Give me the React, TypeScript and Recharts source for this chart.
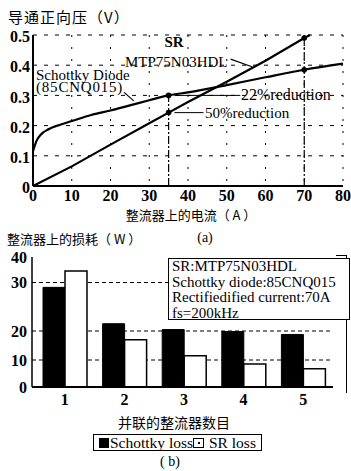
import React from 'react';
import {
  LineChart, Line, XAxis, YAxis, CartesianGrid, ReferenceLine, ReferenceDot,
  BarChart, Bar, Legend,
} from 'recharts';

// ---- (a) forward voltage vs. rectifier current ----
const currentTicks = [0, 10, 20, 30, 40, 50, 60, 70, 80];
const voltageTicks = [0, 0.1, 0.2, 0.3, 0.4, 0.5];
const schottkyCurrent = [0, 1, 2, 4, 7, 10, 15, 20, 25, 30, 35, 40, 50, 60, 70, 80];
const schottkyVoltage = [0.115, 0.152, 0.17, 0.188, 0.203, 0.215, 0.235, 0.25, 0.267, 0.284, 0.3, 0.31, 0.334, 0.36, 0.385, 0.405];
const srCurrent = [0, 10, 20, 30, 35, 40, 50, 60, 70, 71.5];
const srVoltage = [0, 0.065, 0.137, 0.208, 0.243, 0.278, 0.345, 0.415, 0.49, 0.5];
const markCurrents = [35, 70];

// ---- (b) rectifier loss vs. number of parallel rectifiers ----
const rectifierCounts = ['1', '2', '3', '4', '5'];
const schottkyLoss = [29, 21.5, 20.3, 19.8, 18.8];
const srLoss = [34.5, 17, 11.5, 8.5, 6.8];
const lossTicks = [0, 10, 20, 30, 40];
// the printed loss axis is unevenly spaced; this is where each labelled tick sits on it
const lossAxisStops = [0, 27, 56, 104.5, 130];
const legendOrder = ['schottky', 'sr'];

const warpLoss = (v: number) => {
  for (let i = 0; i < lossTicks.length - 1; i++) {
    if (v <= lossTicks[i + 1]) {
      const t = (v - lossTicks[i]) / (lossTicks[i + 1] - lossTicks[i]);
      return lossAxisStops[i] + t * (lossAxisStops[i + 1] - lossAxisStops[i]);
    }
  }
  return lossAxisStops[lossAxisStops.length - 1];
};

const schottkySeries = schottkyCurrent.map((x, i) => ({ x, y: schottkyVoltage[i] }));
const srSeries = srCurrent.map((x, i) => ({ x, y: srVoltage[i] }));
const vAt = (xs: number[], ys: number[], x: number) => ys[xs.indexOf(x)];

const lossData = rectifierCounts.map((n, i) => ({
  n,
  schottky: warpLoss(schottkyLoss[i]),
  sr: warpLoss(srLoss[i]),
}));

const SERIF = '"Liberation Serif", "Times New Roman", serif';
const CJK = '"Noto Sans CJK SC", sans-serif';

const T = (props: { x: number; y: number; children: React.ReactNode; size?: number; font?: string; weight?: any; ls?: number; anchor?: 'left' | 'center' }) => {
  const { x, y, children, size = 15, font = SERIF, weight = 'normal', ls = 0, anchor = 'left' } = props;
  return (
    <div
      style={{
        position: 'absolute', left: x, top: y, fontSize: size, fontFamily: font, fontWeight: weight,
        letterSpacing: ls, lineHeight: 1, whiteSpace: 'nowrap', color: '#000',
        transform: anchor === 'center' ? 'translate(-50%, -50%)' : 'translate(0, -50%)',
      }}
    >
      {children}
    </div>
  );
};

const LegendBox = (props: any) => {
  const payload = [...(props.payload || [])].sort(
    (a: any, b: any) => legendOrder.indexOf(a.dataKey) - legendOrder.indexOf(b.dataKey),
  );
  return (
    <div
      style={{
        border: '1.5px solid #000', padding: '0 5px', height: 15, display: 'flex', alignItems: 'center',
        fontFamily: SERIF, fontSize: 15.5, color: '#000', whiteSpace: 'nowrap', lineHeight: 1,
      }}
    >
      {payload.map((e: any, i: number) => {
        const dark = e.dataKey === 'schottky';
        return (
          <span key={i} style={{ display: 'inline-flex', alignItems: 'center', whiteSpace: 'pre' }}>
            <span
              style={{
                display: 'inline-flex', alignItems: 'center', justifyContent: 'center',
                width: dark ? 10 : 9, height: dark ? 10 : 8,
                background: dark ? '#000' : '#fff', border: dark ? 'none' : '1.5px solid #000',
                marginRight: 1,
              }}
            >
              {dark ? null : <span style={{ width: 2, height: 2, background: '#000' }} />}
            </span>
            {e.value}
          </span>
        );
      })}
    </div>
  );
};

export default function App() {
  const tickStyle = { fill: '#000', fontSize: 16, fontFamily: SERIF, fontWeight: 'bold' as const };
  return (
    <div style={{ position: 'absolute', left: 0, top: 0, width: 351, height: 471, background: '#fff', overflow: 'hidden' }}>
      {/* (a) */}
      <div style={{ position: 'absolute', left: 0, top: 0 }}>
        <LineChart width={351} height={215} margin={{ top: 35, right: 8, bottom: 15, left: 8 }}>
          <CartesianGrid horizontal={false} stroke="#000" strokeWidth={1} strokeDasharray="2 10" />
          <CartesianGrid vertical={false} stroke="#000" strokeWidth={1} strokeDasharray="4 7" />
          <XAxis
            type="number" dataKey="x" domain={[0, 80]} ticks={currentTicks} interval={0}
            tickLine={false} tickSize={4} tickMargin={0} height={14}
            axisLine={{ stroke: '#000', strokeWidth: 2 }} tick={tickStyle}
          />
          <XAxis xAxisId="top" orientation="top" type="number" domain={[0, 80]} height={0} tick={false} tickLine={false} axisLine={{ stroke: '#000', strokeWidth: 2 }} />
          <YAxis
            type="number" domain={[0, 0.5]} ticks={voltageTicks} interval={0} width={25}
            tickLine={false} tickSize={1} tickMargin={2}
            tickFormatter={(v: number) => (v === 0 ? '0' : v.toFixed(1))}
            axisLine={{ stroke: '#000', strokeWidth: 2 }} tick={{ ...tickStyle, dy: 1.5 }}
          />
          <YAxis yAxisId="right" orientation="right" type="number" domain={[0, 0.5]} width={0} tick={false} tickLine={false} axisLine={{ stroke: '#000', strokeWidth: 1.5 }} />
          <ReferenceLine segment={[{ x: 35, y: 0 }, { x: 35, y: vAt(schottkyCurrent, schottkyVoltage, 35) }]} stroke="#000" strokeWidth={1.2} strokeDasharray="8 2 2 2" ifOverflow="visible" />
          <ReferenceLine segment={[{ x: 70, y: 0 }, { x: 70, y: 0.5 }]} stroke="#000" strokeWidth={1.2} strokeDasharray="8 2 2 2" ifOverflow="visible" />
          <ReferenceLine segment={[{ x: 36.5, y: 0.3 }, { x: 53.5, y: 0.3 }]} stroke="#000" strokeWidth={1} ifOverflow="visible" />
          <ReferenceLine segment={[{ x: 36.5, y: 0.243 }, { x: 44, y: 0.243 }]} stroke="#000" strokeWidth={1} ifOverflow="visible" />
          <ReferenceLine segment={[{ x: 51, y: 0.42 }, { x: 56.5, y: 0.395 }]} stroke="#000" strokeWidth={1.2} ifOverflow="visible" />
          <ReferenceLine segment={[{ x: 23.5, y: 0.31 }, { x: 26, y: 0.282 }]} stroke="#000" strokeWidth={1.2} ifOverflow="visible" />
          <Line data={schottkySeries} dataKey="y" type="monotone" stroke="#000" strokeWidth={2.2} dot={false} isAnimationActive={false} />
          <Line data={srSeries} dataKey="y" type="linear" stroke="#000" strokeWidth={2.2} dot={false} isAnimationActive={false} />
          {markCurrents.map((c) => (
            <ReferenceDot key={'s' + c} x={c} y={vAt(schottkyCurrent, schottkyVoltage, c)} r={2.8} fill="#000" stroke="none" />
          ))}
          {markCurrents.map((c) => (
            <ReferenceDot key={'r' + c} x={c} y={vAt(srCurrent, srVoltage, c)} r={2.8} fill="#000" stroke="none" />
          ))}
        </LineChart>
      </div>

      <T x={8} y={16} size={15} font={CJK} ls={1}>导通正向压（V）</T>
      <T x={174} y={42} size={15} weight="bold" anchor="center">SR</T>
      <T x={125} y={62} size={15}>MTP75N03HDL</T>
      <T x={36} y={75} size={15}>Schottky Diode</T>
      <T x={36} y={87} size={15} ls={0.8}>(85CNQ015)</T>
      <T x={241} y={95} size={16}>22%reduction</T>
      <T x={205} y={113} size={15}>50%reduction</T>
      <T x={191} y={214} size={13} font={CJK} anchor="center">整流器上的电流（ A ）</T>

      <T x={7} y={238} size={13} font={CJK}>整流器上的损耗（ W ）</T>
      <T x={205} y={238} size={14} anchor="center">(a)</T>

      {/* (b) */}
      <div style={{ position: 'absolute', left: 0, top: 245 }}>
        <BarChart width={351} height={226} data={lossData} margin={{ top: 12, right: 18, bottom: 66, left: 0 }} barGap={0} barSize={22}>
          <CartesianGrid vertical={false} horizontalValues={[warpLoss(10), warpLoss(20), warpLoss(30)]} stroke="#000" strokeWidth={1} strokeDasharray="4 3" />
          <XAxis
            dataKey="n" height={18} tickLine={false} tickSize={2} tickMargin={5} padding={{ left: 3, right: 0 }}
            axisLine={{ stroke: '#000', strokeWidth: 2 }} tick={tickStyle} interval={0}
          />
          <YAxis
            type="number" domain={[0, lossAxisStops[lossAxisStops.length - 1]]} ticks={lossAxisStops} interval={0} width={32}
            tickLine={false} tickSize={2} tickMargin={3}
            tickFormatter={(v: number) => String(lossTicks[lossAxisStops.indexOf(v)])}
            axisLine={{ stroke: '#000', strokeWidth: 1.5 }} tick={tickStyle}
          />
          <Legend
            layout="horizontal" verticalAlign="middle" align="center"
            wrapperStyle={{ position: 'absolute', left: 93, top: 189, width: 'auto', height: 'auto' }}
            content={<LegendBox />}
          />
          <Bar dataKey="schottky" name="Schottky loss" fill="#000" stroke="#000" strokeWidth={1} isAnimationActive={false} />
          <Bar dataKey="sr" name=" SR loss" fill="#fff" stroke="#000" strokeWidth={1.5} isAnimationActive={false} />
        </BarChart>
      </div>

      <div style={{ position: 'absolute', left: 336, top: 255, width: 10, height: 137, borderTop: '1.5px solid #000', borderRight: '1.5px solid #000' }} />

      <div
        style={{
          position: 'absolute', left: 168, top: 258, width: 177, height: 60, border: '1.5px solid #000', background: '#fff',
          fontFamily: SERIF, fontSize: 15, lineHeight: '15.5px', padding: '0 0 0 3px', color: '#000', whiteSpace: 'nowrap',
        }}
      >
        <div>SR:MTP75N03HDL</div>
        <div>Schottky diode:85CNQ015</div>
        <div>Rectifiedified current:70A</div>
        <div>fs=200kHz</div>
      </div>

      <T x={174} y={422} size={14} font={CJK} anchor="center">并联的整流器数目</T>
      <T x={170} y={462} size={14} anchor="center">( b)</T>
    </div>
  );
}
